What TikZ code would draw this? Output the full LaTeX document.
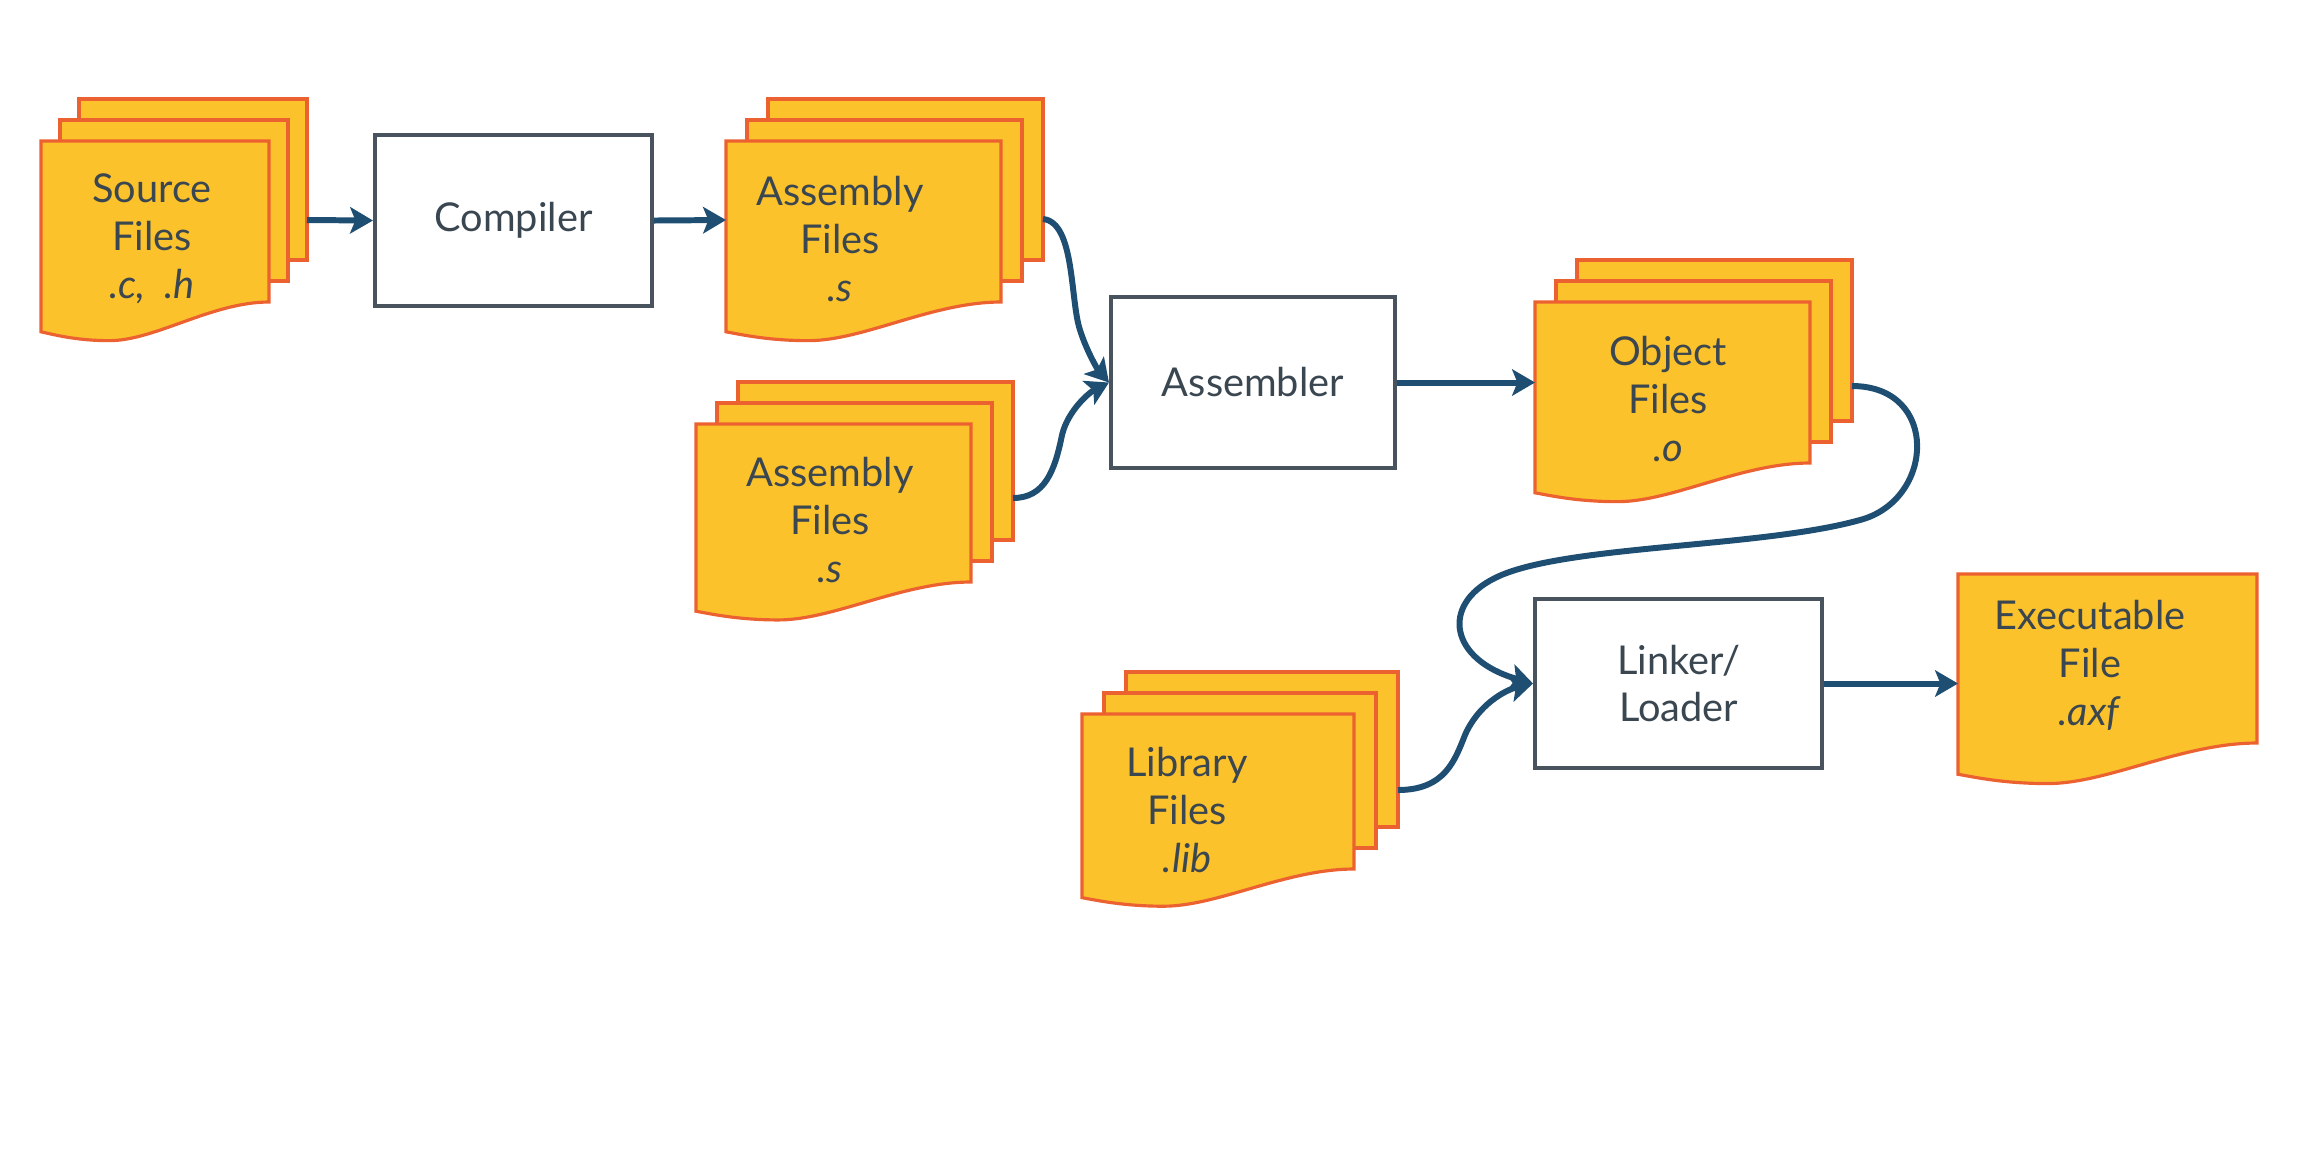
\documentclass[tikz,border=0pt]{standalone}
\usepackage{fontspec}
\setmainfont{Lato}
\usetikzlibrary{arrows.meta}
\definecolor{sheetfill}{HTML}{FBC22C}
\definecolor{sheetedge}{HTML}{EC6130}
\definecolor{flow}{HTML}{1F4E73}
\definecolor{boxedge}{HTML}{48535D}
\definecolor{txt}{HTML}{3A4650}
\tikzset{
  sheet/.style={fill=sheetfill,draw=sheetedge,line width=0.9pt,line join=miter},
  label/.style={text=txt,align=center,font=\fontsize{11.3}{13.6}\selectfont},
  procbox/.style={draw=boxedge,line width=1.1pt,fill=white,text=txt,
    font=\fontsize{11.3}{13.6}\selectfont,align=center,inner sep=0pt},
  flowline/.style={draw=flow,line width=1.7pt,-{Stealth[length=6.5pt,width=7.5pt,inset=1.5pt]}}
}
\newcommand{\frontsheet}[4]{%
  \filldraw[sheet] ({#1},{#2}) -- ({#1+#3},{#2}) -- ({#1+#3},{#2+#4})
   .. controls ({#1+0.75*#3},{#2+#4}) and ({#1+0.5*#3},{#2+1.24*#4}) ..
   ({#1+0.3*#3},{#2+1.24*#4})
   .. controls ({#1+0.15*#3},{#2+1.24*#4}) and ({#1+0.05*#3},{#2+1.2*#4}) ..
   ({#1},{#2+1.185*#4}) -- cycle;}
\newcommand{\backrect}[4]{%
  \filldraw[sheet] ({#1},{#2}) rectangle ({#1+#3},{#2+#4});}
\newcommand{\docstack}[6]{%
  \backrect{#1+2*(#5)}{#2+2*(#6)}{#3}{#4}%
  \backrect{#1+#5}{#2+#6}{#3}{#4}%
  \frontsheet{#1}{#2}{#3}{#4}}
\begin{document}
\begin{tikzpicture}[x=0.01cm,y=-0.01cm]
\useasboundingbox (0,0) rectangle (2308,1150);
% document stacks
\docstack{41}{141}{228}{161}{19}{-21}
\docstack{726}{141}{275}{161}{21}{-21}
\docstack{696}{424}{275}{158}{21}{-21}
\docstack{1535}{302}{275}{161}{21}{-21}
\docstack{1082}{714}{272}{155}{22}{-21}
\frontsheet{1958}{574}{299}{169}
% texts on sheets
\node[label] (srcT) at (152,239) {Source\\Files\\\textit{.c,\ \ .h}};
\node[label] (asmAT) at (840,239) {Assembly\\Files\\\textit{.s}};
\node[label] (asmBT) at (830,520) {Assembly\\Files\\\textit{.s}};
\node[label] (objT) at (1668,399) {Object\\Files\\\textit{.o}};
\node[label] (libT) at (1187,810) {Library\\Files\\\textit{.lib}};
\node[label] (exeT) at (2090,665) {Executable\\File\\\textit{.axf}};
% process boxes
\node[procbox,minimum width=2.77cm,minimum height=1.71cm] (comp) at (513.5,220.5) {Compiler};
\node[procbox,minimum width=2.84cm,minimum height=1.71cm] (asmb) at (1253,382.5) {Assembler};
\node[procbox,minimum width=2.87cm,minimum height=1.69cm] (link) at (1678.5,683.5) {Linker/\\Loader};
% connection points on stacks
\coordinate (srcout) at (307,220);
\coordinate (asmAin) at (726,220);
\coordinate (asmAout) at (1043,219);
\coordinate (asmBout) at (1013,498);
\coordinate (objin) at (1535,382.5);
\coordinate (objout) at (1852,386);
\coordinate (libout) at (1398,790);
\coordinate (exein) at (1958,683.5);
% connectors
\draw[flowline] (srcout) -- (comp.west);
\draw[flowline] (comp.east) -- (asmAin);
\draw[flowline] (asmAout) .. controls (1075,222) and (1070,300) .. (1080,330)
   .. controls (1087,352) and (1098,370) .. (asmb.west);
\draw[flowline] (asmBout) .. controls (1045,498) and (1055,470) .. (1062,435)
   .. controls (1068,410) and (1090,392) .. (asmb.west);
\draw[flowline] (asmb.east) -- (objin);
\draw[flowline] (objout) .. controls (1940,386) and (1935,500) .. (1860,520)
   .. controls (1760,548) and (1560,545) .. (1495,578)
   .. controls (1440,605) and (1450,660) .. (link.west);
\draw[flowline] (libout) .. controls (1445,790) and (1455,760) .. (1465,735)
   .. controls (1478,705) and (1505,690) .. (link.west);
\draw[flowline] (link.east) -- (exein);
\end{tikzpicture}
\end{document}
